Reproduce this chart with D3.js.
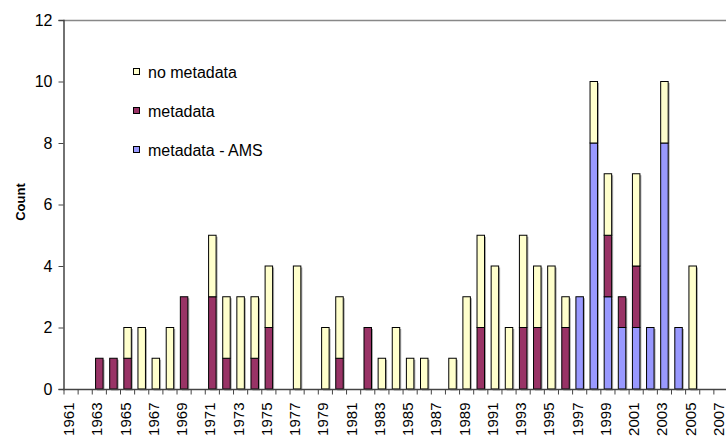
<!DOCTYPE html>
<html><head><meta charset="utf-8">
<script src="https://cdn.jsdelivr.net/npm/d3@7"></script>
<style>body{margin:0;background:#fff}svg{display:block}text{font-family:"Liberation Sans",Arial,sans-serif}</style>
</head><body>
<svg id="c" width="726" height="437"></svg>
<script>
const years = d3.range(1961, 2008).map(String);
const noMetadata = [0,0,0,0,1,2,1,2,0,0,2,2,3,2,2,0,4,0,2,2,0,0,1,2,1,1,0,1,3,3,4,2,3,2,4,1,0,2,2,0,3,0,2,0,4,0,0];
const metadata   = [0,0,1,1,1,0,0,0,3,0,3,1,0,1,2,0,0,0,0,1,0,2,0,0,0,0,0,0,0,2,0,0,2,2,0,2,0,0,2,1,2,0,0,0,0,0,0];
const metadataAMS= [0,0,0,0,0,0,0,0,0,0,0,0,0,0,0,0,0,0,0,0,0,0,0,0,0,0,0,0,0,0,0,0,0,0,0,0,3,8,3,2,2,2,8,2,0,0,0];
const seriesNames = ["metadata - AMS","metadata","no metadata"];
const seriesColors = ["#9999FF","#993366","#FFFFCC"];
const yTicks = [0,2,4,6,8,10,12];
const xTickLabels = years.filter((y,i)=>i%2===0);

const rows = years.map((y,i)=>({year:y,"metadata - AMS":metadataAMS[i],"metadata":metadata[i],"no metadata":noMetadata[i]}));
const stack = d3.stack().keys(seriesNames)(rows);

const svg = d3.select("#c");
const x = d3.scaleBand().domain(years).range([64,728]).paddingInner(0.47).paddingOuter(0.235);
const xb = d3.scaleBand().domain(years).range([64,728]);
const y = d3.scaleLinear().domain([0,12]).range([389,20]);

// plot top border
svg.append("line").attr("x1",63).attr("x2",726).attr("y1",20.5).attr("y2",20.5).attr("stroke","#888").attr("stroke-width",1.5);

// bars
const g = svg.append("g");
stack.forEach((s,k)=>{
  g.append("g").selectAll("rect").data(s.filter(d=>d[1]>d[0])).join("rect")
    .attr("x",d=>x(d.data.year)+1.5).attr("y",d=>y(d[1])+1.5)
    .attr("width",x.bandwidth()).attr("height",d=>y(d[0])-y(d[1]))
    .attr("fill","#aaa");
});
stack.forEach((s,k)=>{
  g.append("g").selectAll("rect").data(s.filter(d=>d[1]>d[0])).join("rect")
    .attr("x",d=>x(d.data.year)).attr("y",d=>y(d[1]))
    .attr("width",x.bandwidth()).attr("height",d=>y(d[0])-y(d[1]))
    .attr("fill",seriesColors[k]).attr("stroke","#000").attr("stroke-width",1);
});

// y axis
const ya = svg.append("g").attr("transform","translate(63.5,0)")
  .call(d3.axisLeft(y).tickValues(yTicks).tickSize(5).tickPadding(6));
ya.select(".domain").attr("stroke","#444").attr("stroke-width",1.5);
ya.selectAll(".tick line").attr("stroke","#444");
ya.selectAll("text").attr("font-size",16).attr("fill","#000").attr("font-family","Liberation Sans, Arial, sans-serif");

// x axis
const xa = svg.append("g").attr("transform","translate(0,389.5)");
xa.append("line").attr("x1",63).attr("x2",726).attr("stroke","#444").attr("stroke-width",1.5);
xa.selectAll("line.t").data(years.concat(["end"])).join("line").attr("class","t")
  .attr("x1",d=>d==="end"?728:xb(d)).attr("x2",d=>d==="end"?728:xb(d))
  .attr("y1",0).attr("y2",5).attr("stroke","#444");
xa.selectAll("text").data(xTickLabels).join("text")
  .attr("transform",d=>`translate(${xb(d)+xb.bandwidth()/2},13) rotate(-90)`)
  .attr("text-anchor","end").attr("dy","0.2em").attr("font-size",15).text(d=>d);

// y title
svg.append("text").attr("transform","translate(25,202) rotate(-90)").attr("text-anchor","middle")
  .attr("font-size",13).attr("font-weight","bold").text("Count");

// legend
const legendItems = ["no metadata","metadata","metadata - AMS"];
const legendColors = ["#FFFFCC","#993366","#9999FF"];
const lg = svg.append("g");
legendItems.forEach((t,i)=>{
  const cy = 72 + i*39;
  lg.append("rect").attr("x",133.5).attr("y",cy-3.5).attr("width",6).attr("height",6)
    .attr("fill",legendColors[i]).attr("stroke","#000");
  lg.append("text").attr("x",148).attr("y",cy+5.5).attr("font-size",16).text(t);
});
</script>
</body></html>
